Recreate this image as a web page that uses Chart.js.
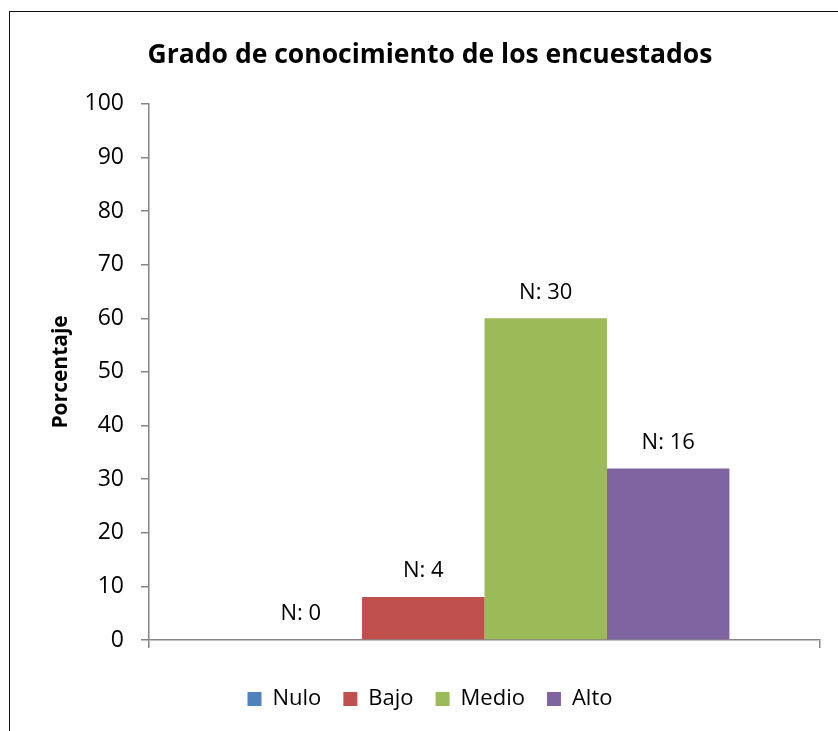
<!DOCTYPE html>
<html>
<head>
<meta charset="utf-8">
<script src="https://cdn.jsdelivr.net/npm/chart.js@4.4.1/dist/chart.umd.min.js"></script>
<style>
  html, body { margin: 0; padding: 0; background: #fff; }
  #wrap { position: relative; width: 838px; height: 731px; overflow: hidden; }
  #frame { position: absolute; left: 9px; top: 11px; width: 1000px; height: 1000px;
           border-left: 1px solid #111; border-top: 1px solid #111; box-sizing: border-box; }
  canvas { position: absolute; left: 0; top: 0; }
</style>
</head>
<body>
<div id="wrap">
  <div id="frame"></div>
  <canvas id="c" width="838" height="731"></canvas>
</div>
<script>
const titleText = 'Grado de conocimiento de los encuestados';
const yAxisTitle = 'Porcentaje';
const categories = [''];
const seriesNames = ['Nulo', 'Bajo', 'Medio', 'Alto'];
const seriesValues = [0, 8, 60, 32];
const seriesCounts = [0, 4, 30, 16];
const seriesColors = ['#4F81BD', '#C0504D', '#9BBB59', '#8064A2'];
const yTicks = [0, 10, 20, 30, 40, 50, 60, 70, 80, 90, 100];

const FONT = "'Open Sans', sans-serif";
const AXIS = '#868686';

const datasets = seriesNames.map((name, i) => ({
  label: name,
  data: [seriesValues[i]],
  backgroundColor: seriesColors[i],
  borderWidth: 0,
  categoryPercentage: 0.73,
  barPercentage: 1.0,
  countLabel: 'N: ' + seriesCounts[i]
}));

const barLabels = {
  id: 'barLabels',
  afterDatasetsDraw(chart) {
    const ctx = chart.ctx;
    ctx.save();
    ctx.font = '22px ' + FONT;
    ctx.fillStyle = '#000';
    ctx.textAlign = 'center';
    ctx.textBaseline = 'middle';
    chart.data.datasets.forEach((ds, i) => {
      const meta = chart.getDatasetMeta(i);
      meta.data.forEach(el => {
        ctx.fillText(ds.countLabel, el.x, el.y - 26);
      });
    });
    ctx.restore();
  }
};

new Chart(document.getElementById('c'), {
  type: 'bar',
  data: { labels: categories, datasets },
  plugins: [barLabels],
  options: {
    responsive: false,
    animation: false,
    devicePixelRatio: 1,
    layout: { padding: { left: 40, right: 18, top: 0, bottom: 11 } },
    plugins: {
      title: {
        display: true,
        text: titleText,
        color: '#000',
        font: { family: FONT, size: 26.5, weight: 'bold' },
        padding: { top: 40, bottom: 32 }
      },
      legend: {
        display: true,
        position: 'bottom',
        labels: {
          color: '#000',
          font: { family: FONT, size: 22 },
          boxWidth: 14,
          boxHeight: 14,
          padding: 22
        }
      },
      tooltip: { enabled: false }
    },
    scales: {
      x: {
        grid: { display: true, offset: true, drawOnChartArea: false, drawTicks: true, tickLength: 8, color: AXIS, lineWidth: 1.5 },
        border: { display: true, color: AXIS, width: 1.5 },
        ticks: { display: false },
        afterFit(scale) { scale.height = 26; }
      },
      y: {
        min: 0, max: 100,
        afterBuildTicks(scale) { scale.ticks = yTicks.map(v => ({ value: v })); },
        grid: { display: true, drawOnChartArea: false, drawTicks: true, tickLength: 8, color: AXIS, lineWidth: 1.5 },
        border: { display: true, color: AXIS, width: 1.5 },
        ticks: { color: '#000', font: { family: FONT, size: 23 }, padding: 17 },
        title: {
          display: true,
          text: yAxisTitle,
          color: '#000',
          font: { family: FONT, size: 21, weight: 'bold' },
          padding: { top: 8, bottom: 0 }
        },
        afterFit(scale) { scale.width = 109; }
      }
    }
  }
});
</script>
</body>
</html>
